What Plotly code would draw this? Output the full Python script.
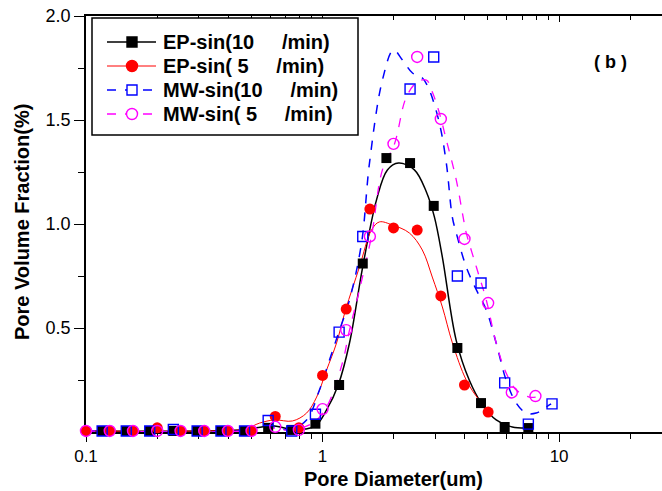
import plotly.graph_objects as go

# ---- data ----
# measured points
x_ep10 = [0.117, 0.148, 0.186, 0.234, 0.295, 0.372, 0.468, 0.589, 0.741, 0.933,
          1.175, 1.479, 1.862, 2.344, 2.951, 3.715, 4.677, 5.888, 7.413]
y_ep10 = [0.005, 0.005, 0.005, 0.005, 0.005, 0.005, 0.005, 0.02, 0.01, 0.04,
          0.226, 0.81, 1.317, 1.293, 1.087, 0.404, 0.139, 0.024, 0.019]

x_ep5 = [0.1, 0.126, 0.158, 0.2, 0.251, 0.316, 0.398, 0.501, 0.631, 0.794,
         1.0, 1.259, 1.585, 1.995, 2.512, 3.162, 3.981, 5.012]
y_ep5 = [0.005, 0.005, 0.005, 0.02, 0.005, 0.005, 0.005, 0.005, 0.075, 0.02,
         0.272, 0.591, 1.072, 0.981, 0.971, 0.654, 0.226, 0.096]

x_mw10 = [0.117, 0.148, 0.186, 0.234, 0.295, 0.372, 0.468, 0.589, 0.741, 0.933,
          1.175, 1.479, 2.344, 2.951, 3.715, 4.677, 5.888, 7.413, 9.333]
y_mw10 = [0.005, 0.005, 0.005, 0.012, 0.005, 0.005, 0.005, 0.055, 0.005, 0.085,
          0.48, 0.94, 1.649, 1.803, 0.75, 0.716, 0.236, 0.038, 0.135]

x_mw5 = [0.1, 0.126, 0.158, 0.2, 0.251, 0.316, 0.398, 0.501, 0.631, 0.794,
         1.0, 1.259, 1.585, 1.995, 2.512, 3.162, 3.981, 5.012, 6.31, 7.943]
y_mw5 = [0.005, 0.005, 0.005, 0.005, 0.005, 0.005, 0.005, 0.005, 0.025, 0.01,
         0.11, 0.49, 0.94, 1.385, 1.803, 1.505, 0.928, 0.62, 0.19, 0.173]

# fitted curves
cx_ep10 = [0.1, 0.303, 0.447, 0.553, 0.627, 0.726, 0.84, 0.934, 1.04, 1.168, 1.30,
           1.475, 1.69, 1.88, 2.094, 2.445, 2.748, 2.97, 3.21, 3.67, 4.17, 4.69,
           5.42, 6.34, 7.47]
cy_ep10 = [0.005, 0.005, 0.01, 0.024, 0.029, 0.014, 0.014, 0.029, 0.106, 0.23, 0.428,
           0.788, 1.115, 1.26, 1.293, 1.26, 1.154, 1.034, 0.841, 0.442, 0.25, 0.139,
           0.058, 0.024, 0.019]

cx_ep5 = [0.1, 0.303, 0.469, 0.542, 0.627, 0.746, 0.856, 0.944, 1.04, 1.146, 1.251,
          1.432, 1.61, 1.739, 1.973, 2.327, 2.641, 2.91, 3.21, 3.54, 4.05, 4.59, 5.16]
cy_ep5 = [0.005, 0.005, 0.014, 0.043, 0.058, 0.053, 0.091, 0.168, 0.298, 0.428, 0.587,
          0.793, 0.971, 1.01, 0.995, 0.957, 0.875, 0.745, 0.601, 0.428, 0.25, 0.154, 0.091]

cx_mw10 = [0.1, 0.447, 0.553, 0.627, 0.726, 0.856, 0.97, 1.07, 1.168, 1.30, 1.462,
           1.579, 1.791, 1.994, 2.178, 2.40, 2.643, 2.827, 3.117, 3.336, 3.536, 3.675,
           4.05, 4.47, 4.92, 5.42, 5.97, 6.59, 7.26, 8.0, 8.81, 9.25]
cy_mw10 = [0.005, 0.005, 0.019, 0.024, 0.01, 0.058, 0.202, 0.346, 0.476, 0.635, 0.909,
           1.293, 1.692, 1.837, 1.788, 1.726, 1.702, 1.644, 1.486, 1.293, 1.034, 0.957,
           0.793, 0.683, 0.587, 0.428, 0.25, 0.139, 0.091, 0.091, 0.12, 0.135]

cx_mw5 = [0.1, 0.493, 0.597, 0.726, 0.908, 1.04, 1.213, 1.30, 1.432, 1.61, 1.791,
          2.014, 2.26, 2.516, 2.748, 2.911, 3.117, 3.336, 3.675, 3.97, 4.05, 4.47,
          4.92, 5.42, 5.97, 6.59, 7.47, 8.0]
cy_mw5 = [0.005, 0.005, 0.019, 0.01, 0.043, 0.12, 0.332, 0.49, 0.683, 0.942, 1.26,
          1.385, 1.61, 1.683, 1.692, 1.635, 1.534, 1.404, 1.212, 1.005, 0.957, 0.793,
          0.635, 0.428, 0.284, 0.202, 0.168, 0.168]

NB = "\u00a0"
names = ["EP-sin(10" + NB * 5 + "/min)",
         "EP-sin(" + NB + "5" + NB * 5 + "/min)",
         "MW-sin(10" + NB * 5 + "/min)",
         "MW-sin(" + NB + "5" + NB * 5 + "/min)"]

y_tickvals = [0.5, 1.0, 1.5, 2.0]
y_ticktext = ["0.5", "1.0", "1.5", "2.0"]
x_tickvals = [0.1, 1, 10]
x_ticktext = ["0.1", "1", "10"]
x_minor = [v * d for d in (0.1, 1, 10) for v in range(2, 10)]
y_minor = [0.25, 0.75, 1.25, 1.75]

FONT = "Liberation Sans, Arial, sans-serif"

styles = [
    dict(color="#000000", dash="solid", lw=1.5, sym="square", filled=True, size=10),
    dict(color="#ff0000", dash="solid", lw=1.0, sym="circle", filled=True, size=11),
    dict(color="#0000ff", dash="dash", lw=1.5, sym="square", filled=False, size=10),
    dict(color="#ff00ff", dash="dash", lw=1.3, sym="circle", filled=False, size=11),
]


def marker_of(st):
    if st["filled"]:
        return dict(symbol=st["sym"], size=st["size"], color=st["color"])
    return dict(symbol=st["sym"] + "-open", size=st["size"], color=st["color"],
                line=dict(width=1.4, color=st["color"]))


curves = [(cx_ep10, cy_ep10), (cx_ep5, cy_ep5), (cx_mw10, cy_mw10), (cx_mw5, cy_mw5)]
points = [(x_ep10, y_ep10), (x_ep5, y_ep5), (x_mw10, y_mw10), (x_mw5, y_mw5)]

fig = go.Figure()
for (cx, cy), st in zip(curves, styles):
    fig.add_trace(go.Scatter(x=cx, y=cy, mode="lines", line_shape="spline",
                             line=dict(color=st["color"], width=st["lw"], dash=st["dash"]),
                             showlegend=False, hoverinfo="skip"))
for (px, py), st in zip(points, styles):
    fig.add_trace(go.Scatter(x=px, y=py, mode="markers", marker=marker_of(st),
                             showlegend=False, cliponaxis=False))
# carrier for the top axis
fig.add_trace(go.Scatter(x=[None], y=[None], xaxis="x2", showlegend=False))

# ---- plot-area pixel geometry helpers (for legend / labels) ----
L, R, T, B = 86, 662, 16, 432
def px(xp):
    return (xp - L) / (R - L)
def py(yp):
    return (B - yp) / (B - T)

shapes = []
annotations = []
# legend box
shapes.append(dict(type="rect", xref="paper", yref="paper",
                   x0=px(92), x1=px(358), y0=py(135), y1=py(18),
                   line=dict(color="black", width=1.5), fillcolor="white", layer="above"))
rows = [42, 66, 90, 114]
for yrow, st, name in zip(rows, styles, names):
    shapes.append(dict(type="line", xref="paper", yref="paper",
                       x0=px(107), x1=px(156), y0=py(yrow), y1=py(yrow),
                       line=dict(color=st["color"], width=st["lw"], dash=st["dash"]),
                       layer="above"))
    h = st["size"] / 2
    shapes.append(dict(type="rect" if st["sym"] == "square" else "circle",
                       xref="paper", yref="paper",
                       xsizemode="pixel", ysizemode="pixel",
                       xanchor=px(132), yanchor=py(yrow),
                       x0=-h, x1=h, y0=-h, y1=h,
                       line=dict(color=st["color"], width=1.4),
                       fillcolor=st["color"] if st["filled"] else "white",
                       layer="above"))
    annotations.append(dict(text="<b>" + name + "</b>", xref="paper", yref="paper",
                            x=px(161), y=py(yrow), xanchor="left", yanchor="middle",
                            showarrow=False,
                            font=dict(size=20, family=FONT, color="black")))

annotations.append(dict(text="<b>( b )</b>", x=px(610), y=py(62), xref="paper",
                        yref="paper", xanchor="center", yanchor="middle",
                        showarrow=False, font=dict(size=18, family=FONT, color="black")))
annotations.append(dict(text="<b>Pore Diameter(um)</b>", x=px(393), y=py(479),
                        xref="paper", yref="paper", xanchor="center", yanchor="middle",
                        showarrow=False, font=dict(size=20, family=FONT, color="black")))
annotations.append(dict(text="<b>Pore Volume Fraction(%)</b>", x=px(22), y=py(222),
                        xref="paper", yref="paper", xanchor="center", yanchor="middle",
                        textangle=-90, showarrow=False,
                        font=dict(size=20, family=FONT, color="black")))

xr = [-1, 1.435]
fig.update_layout(
    width=662, height=491,
    margin=dict(l=L, r=662 - R, t=T, b=491 - B),
    paper_bgcolor="white", plot_bgcolor="white",
    font=dict(family=FONT, color="black"),
    showlegend=False,
    shapes=shapes,
    annotations=annotations,
    xaxis=dict(type="log", range=xr, showgrid=False, zeroline=False,
               showline=True, linecolor="black", linewidth=1.5,
               ticks="outside", ticklen=8, tickwidth=1.2, tickcolor="black",
               tickmode="array", tickvals=x_tickvals, ticktext=x_ticktext,
               tickfont=dict(size=17, family=FONT),
               minor=dict(tickmode="array", tickvals=x_minor, ticks="outside",
                          ticklen=5, tickwidth=1.2, tickcolor="black"),
               layer="below traces"),
    xaxis2=dict(type="log", range=xr, overlaying="x", side="top", anchor="y",
                showgrid=False, zeroline=False, showline=True, linecolor="black",
                linewidth=1.5, ticks="inside", ticklen=6, tickwidth=1.2,
                tickcolor="black", tickmode="array", tickvals=x_tickvals,
                showticklabels=False,
                minor=dict(tickmode="array", tickvals=x_minor, ticks="inside",
                           ticklen=4, tickwidth=1.2, tickcolor="black")),
    yaxis=dict(range=[0, 2.0], showgrid=False, zeroline=False,
               showline=True, linecolor="black", linewidth=1.5,
               ticks="outside", ticklen=10, tickwidth=1.2, tickcolor="black",
               tickmode="array", tickvals=y_tickvals, ticktext=y_ticktext,
               tickfont=dict(size=18, family=FONT),
               minor=dict(tickmode="array", tickvals=y_minor, ticks="outside",
                          ticklen=6, tickwidth=1.2, tickcolor="black"),
               layer="below traces"),
)

fig.write_html("out.html")
